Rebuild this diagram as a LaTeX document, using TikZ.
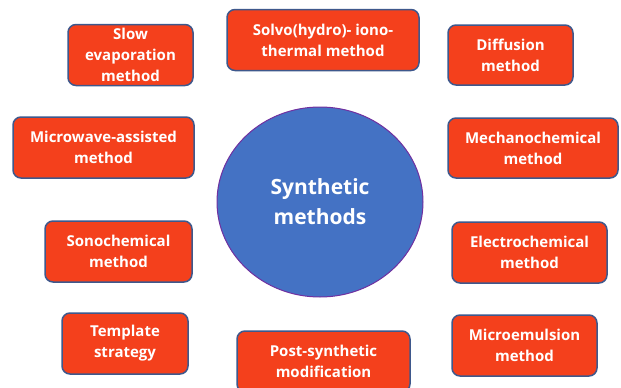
\documentclass[tikz,border=0pt]{standalone}
\usepackage{fontspec}
\setmainfont{Open Sans}
\usetikzlibrary{shapes.geometric}

\definecolor{boxfill}{RGB}{244,64,28}
\definecolor{boxline}{RGB}{62,88,140}
\definecolor{hubfill}{RGB}{68,114,196}
\definecolor{hubline}{RGB}{112,48,160}

\begin{document}
\begin{tikzpicture}[x=1pt,y=-1pt,
    method/.style={draw=boxline, line width=1.5pt, fill=boxfill, rounded corners=8pt,
      text=white, font=\bfseries\fontsize{15}{21}\selectfont, align=center,
      inner sep=0pt, minimum height=61pt},
    hub/.style={ellipse, draw=hubline, line width=1pt, fill=hubfill, text=white,
      font=\bfseries\fontsize{21}{30}\selectfont, align=center,
      minimum width=206pt, minimum height=190pt, inner sep=0pt}]
  \useasboundingbox (0,0) rectangle (621,388);
  \clip (0,0) rectangle (621,388);

  % centre
  \node[hub] (syn) at (320,202) {Synthetic\\methods};

  % methods round the centre
  \node[method, minimum width=125pt] (slow)   at (130.5,55)  {Slow\\evaporation\\method};
  \node[method, minimum width=192pt] (solvo)  at (323,40)    {Solvo(hydro)- iono-\\thermal method};
  \node[method, minimum width=125pt, minimum height=60pt] (diff) at (510.5,55) {Diffusion\\method};
  \node[method, minimum width=181pt] (micw)   at (103.5,147.5) {Microwave-assisted\\method};
  \node[method, minimum width=170pt, minimum height=60pt] (mech) at (533,148) {Mechanochemical\\method};
  \node[method, minimum width=147pt] (sono)   at (118.5,251.5) {Sonochemical\\method};
  \node[method, minimum width=155pt] (elec)   at (529.5,252.5) {Electrochemical\\method};
  \node[method, minimum width=126pt] (templ)  at (125,343.5)   {Template\\strategy};
  \node[method, minimum width=173pt] (post)   at (323.5,361.5) {Post-synthetic\\modification};
  \node[method, minimum width=145pt] (memul)  at (524.5,345.5) {Microemulsion\\method};
\end{tikzpicture}
\end{document}
